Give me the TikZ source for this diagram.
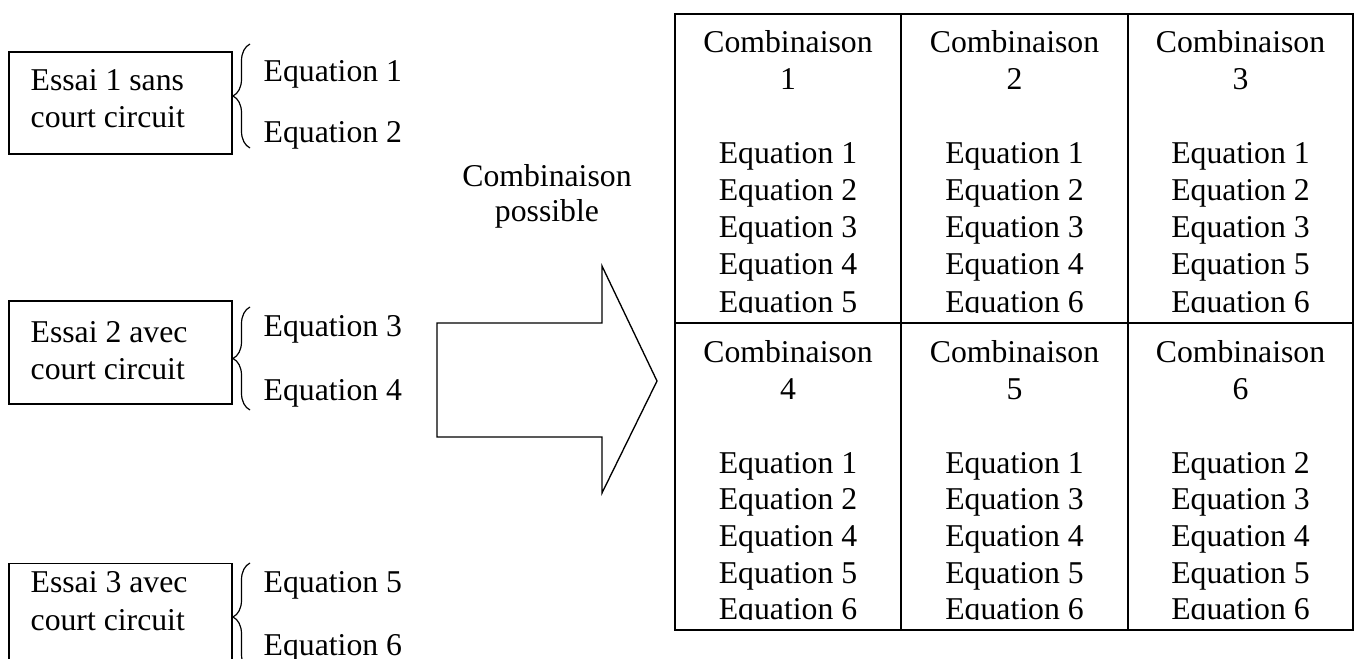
\documentclass[tikz,border=0pt]{standalone}
\usepackage{fontspec}
\setmainfont{Liberation Serif}
\usetikzlibrary{decorations.pathreplacing}
\begin{document}
\begin{tikzpicture}[x=0.75pt,y=-0.75pt,line width=1pt,
  txt/.style={font=\fontsize{23.8}{28}\selectfont, inner sep=0pt, anchor=base},
  ltxt/.style={txt, anchor=base west},
  essaibox/.style={draw, line width=1pt, inner sep=0pt, minimum width=167.25pt, minimum height=77pt},
  bracestyle/.style={decorate, decoration={brace, amplitude=12.75pt}, line width=0.9pt}]
\clip (0,0) rectangle (1356,659);
% left boxes
\node[essaibox, minimum height=76.5pt] (essai1) at (120.5,103) {};
\node[essaibox] (essai2) at (120.5,352.5) {};
\node[essaibox] (essai3) at (120.5,614.5) {};
\node[ltxt] (e1a) at (30,91) {Essai 1 sans};
\node[ltxt] (e1b) at (30,128) {court circuit};
\node[ltxt] (e2a) at (30,342) {Essai 2 avec};
\node[ltxt] (e2b) at (30,379) {court circuit};
\node[ltxt] (e3a) at (30,592) {Essai 3 avec};
\node[ltxt] (e3b) at (30,630) {court circuit};
% braces
\coordinate (b1s) at (250,148); \coordinate (b1e) at (250,44);
\coordinate (b2s) at (250,410); \coordinate (b2e) at (250,307);
\coordinate (b3s) at (250,671); \coordinate (b3e) at (250,563);
\draw[bracestyle] (b1s) -- (b1e);
\draw[bracestyle] (b2s) -- (b2e);
\draw[bracestyle] (b3s) -- (b3e);
\node[ltxt] (eq1) at (263,82) {Equation 1};
\node[ltxt] (eq2) at (263,143) {Equation 2};
\node[ltxt] (eq3) at (263,336) {Equation 3};
\node[ltxt] (eq4) at (263,400) {Equation 4};
\node[ltxt] (eq5) at (263,592) {Equation 5};
\node[ltxt] (eq6) at (263,655) {Equation 6};
% big arrow
\coordinate (a1) at (437,323); \coordinate (a2) at (602,323);
\coordinate (a3) at (602,266); \coordinate (a4) at (657,381);
\coordinate (a5) at (602,493); \coordinate (a6) at (602,437);
\coordinate (a7) at (437,437);
\draw[line join=miter] (a1) -- (a2) -- (a3) -- (a4) -- (a5) -- (a6) -- (a7) -- cycle;
\node[txt] (cp1) at (547,187) {Combinaison};
\node[txt] (cp2) at (547,222) {possible};
% table
\coordinate (tl) at (675,14); \coordinate (br) at (1353,630);
\draw (tl) rectangle (br);
\draw (901,14) -- (901,630);
\draw (1128,14) -- (1128,630);
\draw (675,323) -- (1353,323);
\begin{scope}
\clip (675,14) rectangle (1353,312.8);
\foreach \cx/\n/\eqs in {788/1/{1,2,3,4,5},1014.5/2/{1,2,3,4,6},1240.5/3/{1,2,3,5,6}}{
  \node[txt] (t\n) at (\cx,53) {Combinaison};
  \node[txt] (n\n) at (\cx,90) {\n};
  \foreach \e [count=\i] in \eqs {
    \node[txt] (q\n-\i) at (\cx,{164+37*(\i-1)}) {Equation \e};
  }
}
\end{scope}
\begin{scope}
\clip (675,323) rectangle (1353,619.6);
\foreach \cx/\n/\eqs in {788/4/{1,2,4,5,6},1014.5/5/{1,3,4,5,6},1240.5/6/{2,3,4,5,6}}{
  \node[txt] (t\n) at (\cx,362.5) {Combinaison};
  \node[txt] (n\n) at (\cx,399.5) {\n};
  \foreach \e [count=\i] in \eqs {
    \node[txt] (q\n-\i) at (\cx,{473+36.7*(\i-1)}) {Equation \e};
  }
}
\end{scope}
\end{tikzpicture}
\end{document}
